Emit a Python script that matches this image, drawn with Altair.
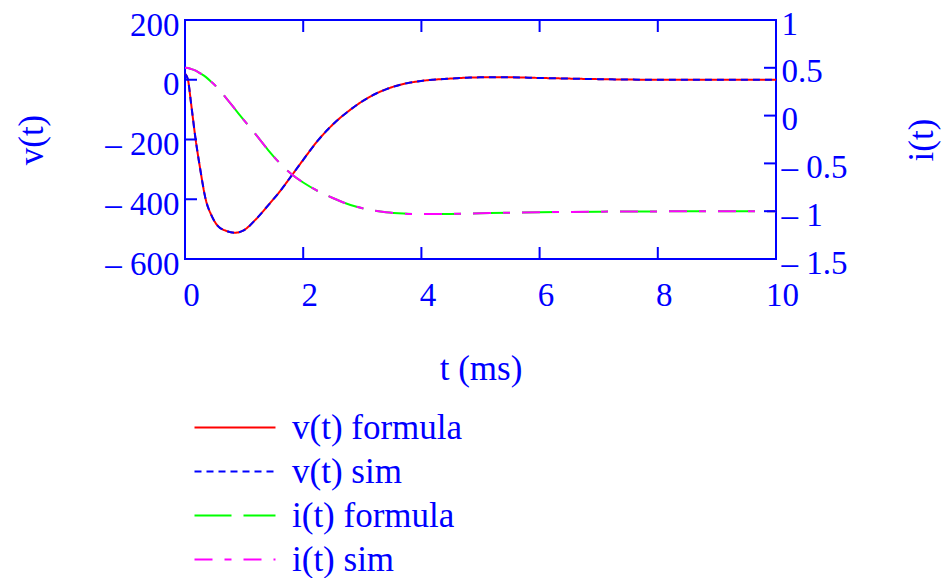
import altair as alt
import pandas as pd

# Time samples (ms) with the voltage (V) and current (A) of the transient
t_ms = [0, 0.05, 0.1, 0.18, 0.25, 0.35, 0.45, 0.55, 0.7, 0.85, 1.0, 1.2, 1.4,
        1.6, 1.8, 2.0, 2.25, 2.5, 2.8, 3.1, 3.4, 3.7, 4.0, 4.5, 5.0, 5.5, 6.0,
        7.0, 8.0, 9.0, 10.0]
v_volts = [20, 0, -75, -200, -290, -400, -455, -488, -506, -512, -503, -467,
           -422, -375, -322, -268, -203, -150, -100, -60, -32, -14, -4, 4, 8,
           8, 6, 2, 0, 0, 0]
i_amps = [0.50, 0.497, 0.488, 0.47, 0.445, 0.405, 0.35, 0.29, 0.18, 0.065,
          -0.05, -0.20, -0.355, -0.495, -0.61, -0.70, -0.79, -0.862, -0.935,
          -0.982, -1.011, -1.025, -1.03, -1.028, -1.022, -1.016, -1.011,
          -1.005, -1.002, -1.0, -1.0]

series_names = ["v(t) formula", "v(t) sim", "i(t) formula", "i(t) sim"]
series_colors = ["#ff0000", "#0000ff", "#00ff00", "#ff00ff"]
series_dashes = [[1, 0], [7, 5], [37, 12], [18, 12, 7, 12]]

x_ticks = [0, 2, 4, 6, 8, 10]
v_ticks = [-600, -400, -200, 0, 200]
i_ticks = [-1.5, -1, -0.5, 0, 0.5, 1]

BLUE = "#0000ff"
FONT = "Liberation Serif"
FS_LABEL = 33
FS_TITLE = 35
W, H = 591, 239

v_df = pd.concat([pd.DataFrame({"t": t_ms, "v": v_volts, "series": s})
                  for s in series_names[:2]], ignore_index=True)
i_df = pd.concat([pd.DataFrame({"t": t_ms, "i": i_amps, "series": s})
                  for s in series_names[2:]], ignore_index=True)

x_scale = alt.Scale(domain=[0, 10], nice=False, zero=False)
v_scale = alt.Scale(domain=[-600, 200], nice=False, zero=False)
i_scale = alt.Scale(domain=[-1.5, 1], nice=False, zero=False)

# Negative tick labels are written with a detached dash, e.g. "– 200"
minus_label = "datum.value < 0 ? '\u2013 ' + (-datum.value) : '' + datum.value"

x_axis = alt.Axis(values=x_ticks, ticks=False, tickSize=0, domain=False,
                  grid=False, labelPadding=20, labelOffset=6, labelFlush=False,
                  title="t (ms)", titleX=W / 2, titleY=109,
                  titleAlign="center", titleBaseline="middle")
v_axis = alt.Axis(orient="left", values=v_ticks, ticks=False, tickSize=0,
                  domain=False, grid=False, labelPadding=6, labelOffset=5,
                  labelFlush=False, labelBaseline="middle", labelExpr=minus_label,
                  title="v(t)", titleAngle=270, titleX=-154, titleY=H / 2,
                  titleAlign="center", titleBaseline="middle")
i_axis = alt.Axis(orient="right", values=i_ticks, ticks=False, tickSize=0,
                  domain=False, grid=False, labelPadding=5, labelOffset=4,
                  labelFlush=False, labelBaseline="middle", labelExpr=minus_label,
                  title="i(t)", titleAngle=270, titleX=145, titleY=H / 2,
                  titleAlign="center", titleBaseline="middle")

X = alt.X("t:Q", scale=x_scale, axis=x_axis)
YV = alt.Y("v:Q", scale=v_scale, axis=v_axis)
YI = alt.Y("i:Q", scale=i_scale, axis=i_axis)

legend = alt.Legend(orient="none", legendX=-8, legendY=390, title=None,
                    symbolType="M0,0H8", symbolSize=410, symbolStrokeWidth=2,
                    labelFont=FONT, labelFontSize=FS_TITLE, labelColor=BLUE,
                    labelOffset=80, rowPadding=8, padding=0, labelLimit=0)
color = alt.Color("series:N", scale=alt.Scale(domain=series_names, range=series_colors),
                  legend=legend)
dash = alt.StrokeDash("series:N", scale=alt.Scale(domain=series_names, range=series_dashes),
                      legend=legend)

v_lines = alt.Chart(v_df).mark_line(strokeWidth=2, interpolate="monotone").encode(
    x=X, y=YV, color=color, strokeDash=dash)
i_lines = alt.Chart(i_df).mark_line(strokeWidth=2, interpolate="monotone").encode(
    x=X, y=YI, color=color, strokeDash=dash)

# Inward-pointing tick marks on all four sides of the frame
tick = dict(color=BLUE, strokeWidth=2)
v_tick_marks = alt.Chart(pd.DataFrame({"v": v_ticks})).mark_rule(**tick).encode(
    y=YV, x=alt.value(0), x2=alt.value(12))
i_tick_marks = alt.Chart(pd.DataFrame({"i": i_ticks})).mark_rule(**tick).encode(
    y=YI, x=alt.value(W - 12), x2=alt.value(W))
x_top_marks = alt.Chart(pd.DataFrame({"t": x_ticks})).mark_rule(**tick).encode(
    x=X, y=alt.value(0), y2=alt.value(12))
x_bottom_marks = alt.Chart(pd.DataFrame({"t": x_ticks})).mark_rule(**tick).encode(
    x=X, y=alt.value(H - 12), y2=alt.value(H))

v_layer = alt.layer(v_lines, v_tick_marks, x_top_marks, x_bottom_marks)
i_layer = alt.layer(i_lines, i_tick_marks)

chart = alt.layer(v_layer, i_layer).resolve_scale(y="independent").properties(
    width=W, height=H,
    autosize=alt.AutoSizeParams(type="none"),
    padding={"left": 185, "top": 20, "right": 943 - 185 - W, "bottom": 578 - 20 - H},
    background="white",
).configure_view(
    stroke=BLUE, strokeWidth=2
).configure_axis(
    labelFont=FONT, labelFontSize=FS_LABEL, labelColor=BLUE,
    titleFont=FONT, titleFontSize=FS_TITLE, titleColor=BLUE, titleFontWeight="normal",
)

chart.save("out.html", embed_options={"renderer": "svg", "actions": False})
